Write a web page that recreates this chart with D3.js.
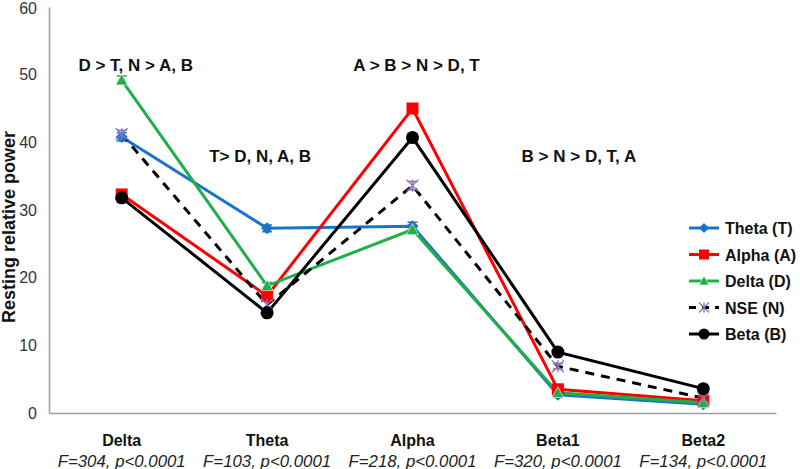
<!DOCTYPE html>
<html><head><meta charset="utf-8">
<script src="https://cdn.jsdelivr.net/npm/d3@7"></script>
<style>body{margin:0;background:#fff}svg{display:block;font-family:"Liberation Sans",Arial,sans-serif}</style>
</head><body><svg id="c" width="800" height="469"></svg>
<script>
const categories = ["Delta","Theta","Alpha","Beta1","Beta2"];
const fStats = ["F=304, p<0.0001","F=103, p<0.0001","F=218, p<0.0001","F=320, p<0.0001","F=134, p<0.0001"];
const yTicks = [0,10,20,30,40,50,60];
const seriesNames = ["Theta (T)","Alpha (A)","Delta (D)","NSE (N)","Beta (B)"];
const thetaValues = [40.8, 27.3, 27.6, 2.7, 1.3];
const alphaValues = [32.3, 17.3, 45.0, 3.5, 1.8];
const deltaValues = [49.2, 18.8, 27.1, 3.0, 1.5];
const nseValues   = [41.2, 16.0, 33.6, 6.9, 2.2];
const betaValues  = [31.8, 14.8, 40.7, 9.0, 3.6];
const errValues   = [0.6, 0.5, 0.6, 0.4, 0.3];
const annotations = ["D > T, N > A, B","T> D, N, A, B","A > B > N > D, T","B > N > D, T, A"];
const annotCats = ["Delta","Theta","Alpha","Beta1"];
const annotY = [50.5, 37.1, 50.5, 37.1];

const series = [
  {name:seriesNames[0], values:thetaValues, color:"#1874c8", marker:"diamond", dash:null},
  {name:seriesNames[1], values:alphaValues, color:"#ff0000", marker:"square", dash:null},
  {name:seriesNames[2], values:deltaValues, color:"#1fae4a", marker:"triangle", dash:null},
  {name:seriesNames[3], values:nseValues,   color:"#000000", marker:"asterisk", dash:"9,7", mcolor:"#8a73b8"},
  {name:seriesNames[4], values:betaValues,  color:"#000000", marker:"circle", dash:null}
];

const svg = d3.select("#c");
const x = d3.scaleBand().domain(categories).range([49,776]);
const y = d3.scaleLinear().domain([0,60]).range([413,7]);
const cx = c => x(c) + x.bandwidth()/2;

// axes
const yAxis = svg.append("g").attr("transform","translate(49,0)")
  .call(d3.axisLeft(y).tickValues(yTicks).tickSize(0).tickPadding(12));
yAxis.select(".domain").attr("stroke","#a0a0a0").attr("stroke-width",1.5);
yAxis.selectAll("text").attr("font-size",16).attr("fill","#333").attr("font-family","Liberation Sans, Arial");
yAxis.selectAll(".tick").filter(d=>d===60).select("text").attr("dy","0.38em");

const xAxis = svg.append("g").attr("transform","translate(0,413)")
  .call(d3.axisBottom(x).tickSize(0).tickPadding(22));
xAxis.select(".domain").attr("stroke","#a0a0a0").attr("stroke-width",1.5);
xAxis.selectAll("text").attr("font-size",16).attr("font-weight","bold").attr("fill","#111").attr("font-family","Liberation Sans, Arial");

svg.append("g").selectAll("text").data(categories).join("text")
  .attr("x", c=>cx(c)).attr("y", 467)
  .attr("text-anchor","middle").attr("font-size",16).attr("font-style","italic").attr("fill","#222")
  .attr("textLength",128).attr("lengthAdjust","spacingAndGlyphs")
  .text((c,i)=>fStats[i]);

svg.append("text").attr("transform","translate(15,227) rotate(-90)")
  .attr("text-anchor","middle").attr("font-size",18).attr("font-weight","bold").attr("fill","#111")
  .text("Resting relative power");

// lines
const line = d3.line().x((d,i)=>cx(categories[i])).y(d=>y(d));
series.forEach(s=>{
  svg.append("path").datum(s.values).attr("d",line).attr("fill","none")
    .attr("stroke",s.color).attr("stroke-width",3).attr("stroke-dasharray",s.dash);
});

function drawMarker(g, type, color, size){
  const r = size/2;
  if(type==="diamond") g.append("path").attr("d",`M0,${-r}L${r},0L0,${r}L${-r},0Z`).attr("fill",color);
  else if(type==="square") g.append("rect").attr("x",-r).attr("y",-r).attr("width",size).attr("height",size).attr("fill",color);
  else if(type==="triangle") g.append("path").attr("d",`M0,${-r}L${r},${r*0.8}L${-r},${r*0.8}Z`).attr("fill",color).attr("stroke","#fff").attr("stroke-width",0.6);
  else if(type==="circle") g.append("circle").attr("r",r).attr("fill",color);
  else if(type==="asterisk"){
    g.append("path").attr("d",`M${-r},${-r}L${r},${r}M${-r},${r}L${r},${-r}M0,${-r}L0,${r}`)
      .attr("stroke",color).attr("stroke-width",1.3).attr("fill","none");
  }
}

// error bars + markers
series.forEach(s=>{
  const g = svg.append("g");
  s.values.forEach((v,i)=>{
    const px = cx(categories[i]);
    g.append("path").attr("d",`M${px-5},${y(v+errValues[i])}H${px+5}M${px},${y(v+errValues[i])}V${y(v-errValues[i])}M${px-5},${y(v-errValues[i])}H${px+5}`)
      .attr("stroke", s.mcolor||s.color).attr("stroke-width",1.5).attr("fill","none");
  });
});
series.forEach(s=>{
  s.values.forEach((v,i)=>{
    const m = svg.append("g").attr("transform",`translate(${cx(categories[i])},${y(v)})`);
    drawMarker(m, s.marker, s.mcolor||s.color, s.marker==="circle"?13:12);
  });
});

// annotations
const annotDx = [14, -7, 4, 21];
svg.append("g").selectAll("text").data(annotations).join("text")
  .attr("x",(d,i)=>cx(annotCats[i]) + annotDx[i]).attr("y",(d,i)=>y(annotY[i]))
  .attr("text-anchor","middle").attr("font-size",17).attr("font-weight","bold").attr("fill","#111")
  .text(d=>d);

// legend
const leg = svg.append("g");
series.forEach((s,i)=>{
  const ly = 228 + i*26.5;
  const g = leg.append("g").attr("transform",`translate(689,${ly})`);
  g.append("line").attr("x1",0).attr("x2",30).attr("stroke",s.color).attr("stroke-width",3)
    .attr("stroke-dasharray", s.dash ? "7,6" : null);
  const m = g.append("g").attr("transform","translate(15,0)");
  drawMarker(m, s.marker, s.mcolor||s.color, s.marker==="circle"?11:10);
  g.append("text").attr("x",36).attr("y",6).attr("font-size",16).attr("font-weight","bold").attr("fill","#111").text(s.name);
});
</script></body></html>
